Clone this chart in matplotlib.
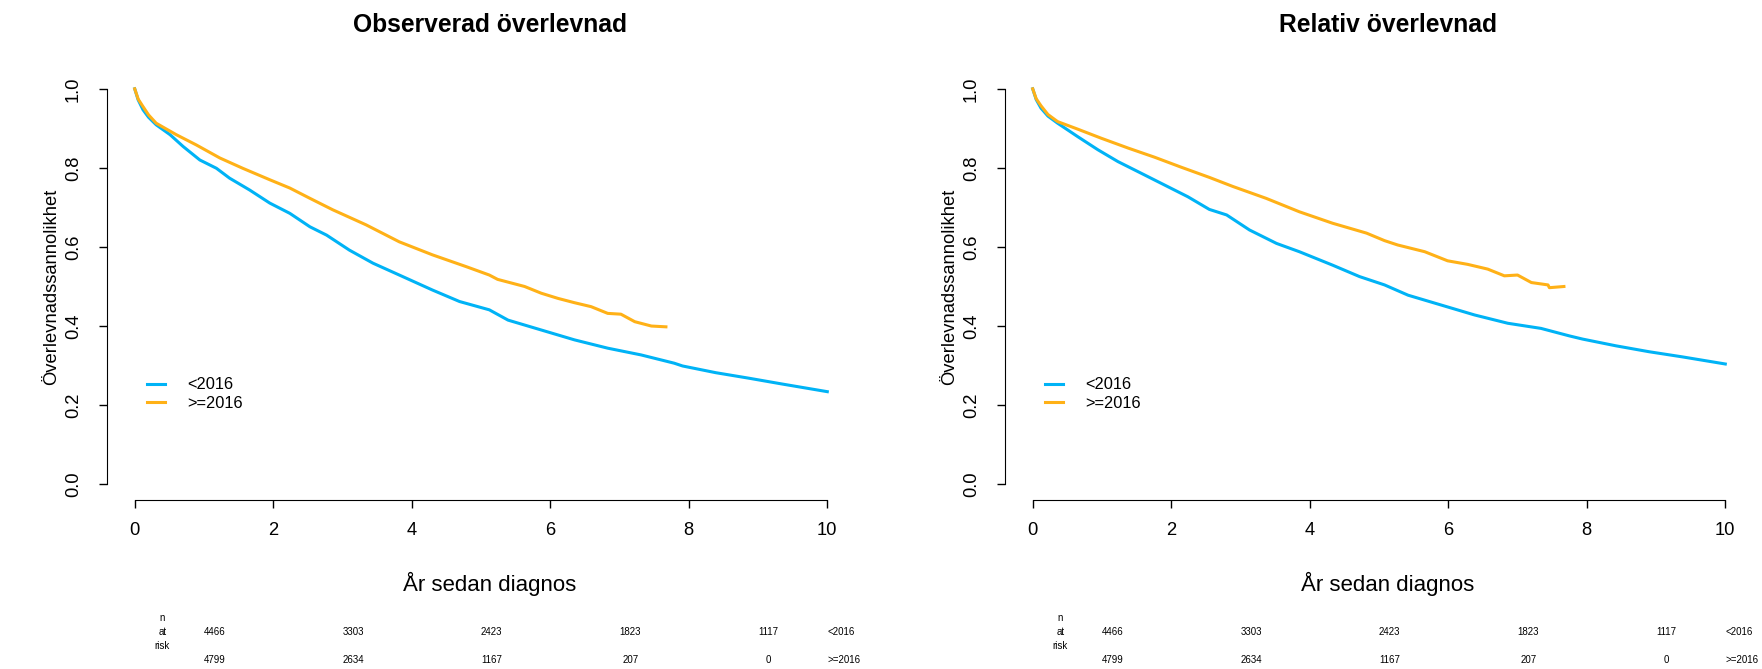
import matplotlib
matplotlib.use("Agg")
import matplotlib.pyplot as plt
import matplotlib.transforms as mtransforms
import numpy as np

plt.rcParams['font.family'] = ['Liberation Sans', 'DejaVu Sans']

# --- data ---
# Observerad overlevnad
obs_t_pre = [0, 0.05, 0.12, 0.2, 0.31, 0.51, 0.70, 0.94, 1.18, 1.37, 1.66, 1.95, 2.24, 2.53,
             2.77, 3.10, 3.44, 3.82, 4.30, 4.69, 5.12, 5.39, 5.87, 6.35, 6.83, 7.31, 7.79,
             7.91, 8.39, 8.87, 9.36, 10.0]
obs_s_pre = [1.0, 0.972, 0.947, 0.928, 0.909, 0.884, 0.854, 0.820, 0.799, 0.774, 0.744, 0.711,
             0.685, 0.651, 0.630, 0.592, 0.559, 0.529, 0.491, 0.462, 0.441, 0.415, 0.390,
             0.365, 0.344, 0.327, 0.306, 0.299, 0.282, 0.268, 0.253, 0.234]
obs_t_post = [0, 0.05, 0.12, 0.2, 0.31, 0.60, 0.89, 1.23, 1.56, 1.95, 2.24, 2.53, 2.86, 3.34,
              3.82, 4.30, 4.79, 5.12, 5.24, 5.63, 5.87, 6.11, 6.35, 6.59, 6.83, 7.02, 7.22,
              7.46, 7.67]
obs_s_post = [1.0, 0.974, 0.955, 0.934, 0.913, 0.884, 0.858, 0.825, 0.799, 0.770, 0.749, 0.723,
              0.694, 0.656, 0.613, 0.580, 0.550, 0.529, 0.518, 0.500, 0.483, 0.470, 0.459,
              0.449, 0.432, 0.430, 0.411, 0.400, 0.398]

# Relativ overlevnad
rel_t_pre = [0, 0.05, 0.12, 0.22, 0.36, 0.65, 0.94, 1.23, 1.56, 1.90, 2.24, 2.55, 2.80, 3.13,
             3.52, 3.85, 4.33, 4.72, 5.08, 5.42, 5.90, 6.38, 6.86, 7.34, 7.75, 7.94, 8.42,
             8.90, 9.38, 10.0]
rel_s_pre = [1.0, 0.973, 0.951, 0.931, 0.913, 0.879, 0.846, 0.816, 0.787, 0.757, 0.727, 0.695,
             0.681, 0.643, 0.609, 0.588, 0.554, 0.525, 0.504, 0.478, 0.453, 0.428, 0.407,
             0.394, 0.375, 0.367, 0.350, 0.335, 0.322, 0.304]
rel_t_post = [0, 0.05, 0.12, 0.22, 0.36, 0.65, 0.99, 1.38, 1.76, 2.14, 2.55, 2.89, 3.37, 3.85,
              4.33, 4.82, 5.08, 5.27, 5.66, 5.99, 6.28, 6.57, 6.81, 7.00, 7.20, 7.44, 7.46,
              7.67]
rel_s_post = [1.0, 0.975, 0.957, 0.935, 0.917, 0.898, 0.875, 0.850, 0.827, 0.802, 0.776, 0.753,
              0.723, 0.689, 0.660, 0.635, 0.616, 0.605, 0.588, 0.565, 0.556, 0.544, 0.527,
              0.529, 0.510, 0.504, 0.497, 0.500]

groups = ['<2016', '>=2016']
risk_times = [0, 2, 4, 6, 8]
risk_pre = [4466, 3303, 2423, 1823, 1117]
risk_post = [4799, 2634, 1167, 207, 0]

titles = ['Observerad överlevnad', 'Relativ överlevnad']
colors = ['#00b3f6', '#ffb117']

W, H = 1762, 669
fig = plt.figure(figsize=(W / 100, H / 100), dpi=100)

ax_left_px = [107, 1005]
ax_w, ax_top, ax_bot = 748, 73, 500
ax_h = ax_bot - ax_top

panels = [
    (obs_t_pre, obs_s_pre, obs_t_post, obs_s_post),
    (rel_t_pre, rel_s_pre, rel_t_post, rel_s_post),
]

for i, (t1, s1, t2, s2) in enumerate(panels):
    ax = fig.add_axes([ax_left_px[i] / W, (H - ax_bot) / H, ax_w / W, ax_h / H])
    ax.plot(t1, s1, color=colors[0], lw=2.2, label=groups[0])
    ax.plot(t2, s2, color=colors[1], lw=2.2, label=groups[1])
    ax.set_xlim(-0.4, 10.4)
    ax.set_ylim(-0.04, 1.04)

    for sp in ['top', 'right']:
        ax.spines[sp].set_visible(False)
    ax.spines['bottom'].set_bounds(0, 10)
    ax.spines['left'].set_bounds(0, 1)
    ax.set_xticks([0, 2, 4, 6, 8, 10])
    ax.set_yticks([0, 0.2, 0.4, 0.6, 0.8, 1.0])
    ax.set_yticklabels(['0.0', '0.2', '0.4', '0.6', '0.8', '1.0'], rotation=90, va='center')
    ax.tick_params(direction='out', length=6, width=1, labelsize=13.2)
    ax.tick_params(axis='x', pad=10)
    ax.tick_params(axis='y', pad=12)

    ax.set_xlabel('År sedan diagnos', fontsize=16, va='center')
    ax.xaxis.set_label_coords(0.512, -84 / ax_h)
    ax.set_ylabel('Överlevnadssannolikhet', fontsize=13.2, va='center')
    ax.yaxis.set_label_coords(-55 / ax_w, 0.5)

    ax.text(0.512, 1 + 48 / ax_h, titles[i], transform=ax.transAxes, ha='center', va='center',
            fontsize=17.7, fontweight='bold')

    ax.legend(loc='upper left', bbox_to_anchor=(0.053, 0.287), frameon=False, fontsize=11.8,
              handlelength=1.15, handletextpad=1.35, labelspacing=0.22, borderpad=0,
              borderaxespad=0)

    # number at risk table
    tr = mtransforms.blended_transform_factory(ax.transData, fig.transFigure)
    shift = mtransforms.ScaledTranslation(0.8, 0, fig.dpi_scale_trans)
    y1, y2 = 1 - 632 / H, 1 - 660 / H
    ax.text(0.4, y1, 'n\nat\nrisk', transform=tr, ha='center', va='center', fontsize=7,
            linespacing=1.45, clip_on=False)
    for t, n1, n2 in zip(risk_times, risk_pre, risk_post):
        ax.text(t, y1, str(n1), transform=tr + shift, ha='center', va='center', fontsize=7)
        ax.text(t, y2, str(n2), transform=tr + shift, ha='center', va='center', fontsize=7)
    ax.text(10, y1, groups[0], transform=tr, ha='left', va='center', fontsize=7)
    ax.text(10, y2, groups[1], transform=tr, ha='left', va='center', fontsize=7)

fig.savefig('out.png', dpi=100)
